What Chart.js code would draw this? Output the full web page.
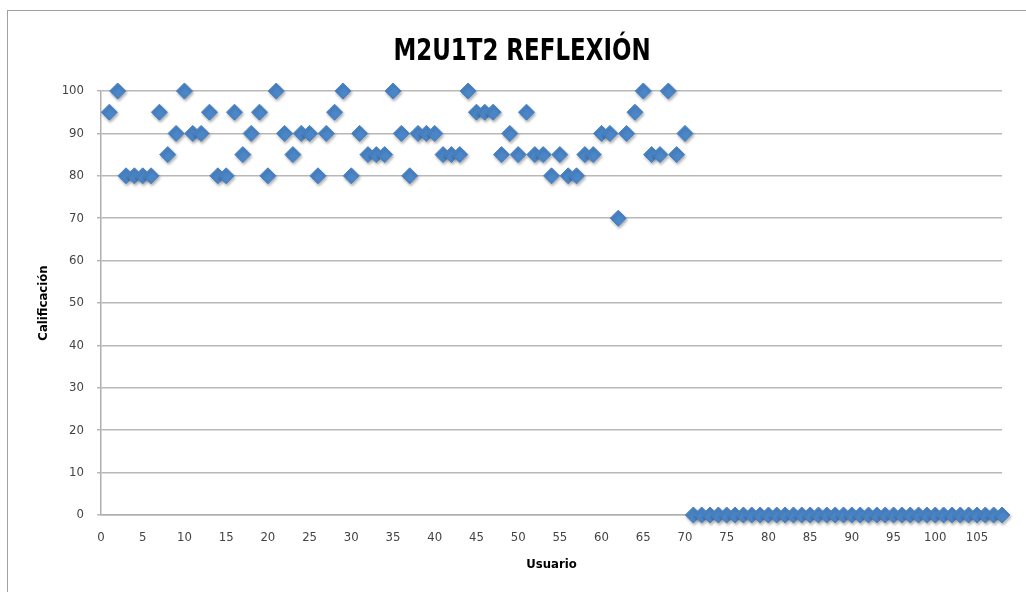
<!DOCTYPE html>
<html>
<head>
<meta charset="utf-8">
<script src="https://cdn.jsdelivr.net/npm/chart.js@4.4.0/dist/chart.umd.min.js"></script>
<style>
  html, body { margin: 0; padding: 0; background: #fff; overflow: hidden; }
  #frame { position: absolute; left: 7px; top: 10px; width: 1040px; height: 600px; border: 1px solid #a0a0a0; }
  #wrap { position: absolute; left: 0; top: 0; width: 1026px; height: 592px; }
</style>
</head>
<body>
<div id="frame"></div>
<div id="wrap"><canvas id="myChart" width="1026" height="592"></canvas></div>
<script>
const chartTitle = 'M2U1T2 REFLEXIÓN';
const xTitle = 'Usuario';
const yTitle = 'Calificación';

// calificación por usuario (usuario 1 .. 108)
const scores = [
    95, 100, 80, 80, 80, 80, 95, 85, 90, 100,
    90, 90, 95, 80, 80, 95, 85, 90, 95, 80,
    100, 90, 85, 90, 90, 80, 90, 95, 100, 80,
    90, 85, 85, 85, 100, 90, 80, 90, 90, 90,
    85, 85, 85, 100, 95, 95, 95, 85, 90, 85,
    95, 85, 85, 80, 85, 80, 80, 85, 85, 90,
    90, 70, 90, 95, 100, 85, 85, 100, 85, 90,
    0, 0, 0, 0, 0, 0, 0, 0, 0, 0,
    0, 0, 0, 0, 0, 0, 0, 0, 0, 0,
    0, 0, 0, 0, 0, 0, 0, 0, 0, 0,
    0, 0, 0, 0, 0, 0, 0, 0
];

const xTicks = [0, 5, 10, 15, 20, 25, 30, 35, 40, 45, 50, 55, 60, 65, 70, 75, 80, 85, 90, 95, 100, 105];
const xMin = 0;
const xMax = 108;
const yMin = 0;
const yMax = 100;
const yStep = 10;

const points = scores.map((v, i) => ({ x: i + 1, y: v }));

// slight drop shadow under the diamonds
const shadowPlugin = {
    id: 'shadow',
    beforeDatasetsDraw(chart) {
        const ctx = chart.ctx;
        ctx.save();
        ctx.shadowColor = 'rgba(0, 0, 0, 0.3)';
        ctx.shadowBlur = 3;
        ctx.shadowOffsetX = 1;
        ctx.shadowOffsetY = 2;
    },
    afterDatasetsDraw(chart) {
        chart.ctx.restore();
    }
};

// title drawn by hand (narrow, like the Calibri one in Excel)
const titlePlugin = {
    id: 'excelTitle',
    afterDraw(chart) {
        const ctx = chart.ctx;
        ctx.save();
        ctx.translate(522, 60);
        ctx.scale(0.85, 1);
        ctx.font = "bold 30px 'DejaVu Sans Condensed', 'DejaVu Sans', sans-serif";
        ctx.fillStyle = '#000';
        ctx.textAlign = 'center';
        ctx.textBaseline = 'alphabetic';
        ctx.fillText(chartTitle, 0, 0);
        ctx.restore();
    }
};

const tickFont = { family: "'DejaVu Sans Condensed', 'DejaVu Sans', sans-serif", size: 13 };
const titleFont = { family: "'DejaVu Sans Condensed', 'DejaVu Sans', sans-serif", size: 13, weight: 'bold' };

const config = {
    type: 'scatter',
    data: {
        datasets: [{
            label: yTitle,
            data: points,
            pointStyle: 'rectRot',
            pointRadius: 8,
            pointHoverRadius: 8,
            backgroundColor: '#4a86c8',
            borderColor: '#4a80c0',
            borderWidth: 1,
            clip: false
        }]
    },
    options: {
        responsive: false,
        animation: false,
        layout: {
            padding: { left: 0, right: 24, top: 91, bottom: 0 }
        },
        plugins: {
            legend: { display: false },
            tooltip: { enabled: false },
            title: { display: false }
        },
        scales: {
            x: {
                type: 'linear',
                min: xMin,
                max: xMax,
                afterFit: (scale) => { scale.height = 77; },
                afterBuildTicks: (scale) => {
                    scale.ticks = xTicks.map(v => ({ value: v }));
                },
                ticks: {
                    autoSkip: false,
                    maxRotation: 0,
                    padding: 15,
                    color: '#444',
                    font: tickFont
                },
                grid: { display: false, drawTicks: false },
                border: { display: true, color: '#b0b0b0', width: 1.5 },
                title: {
                    display: true,
                    text: xTitle,
                    color: '#000',
                    font: titleFont,
                    padding: { top: 20, bottom: 20 }
                }
            },
            y: {
                min: yMin,
                max: yMax,
                afterFit: (scale) => { scale.width = 101; },
                ticks: {
                    stepSize: yStep,
                    padding: 13,
                    color: '#444',
                    font: tickFont
                },
                grid: {
                    color: '#b8b8b8',
                    lineWidth: 1.5,
                    drawTicks: true,
                    tickLength: 4
                },
                border: { display: true, color: '#b0b0b0', width: 1.5 },
                title: {
                    display: true,
                    text: yTitle,
                    color: '#000',
                    font: titleFont,
                    padding: { top: 36, bottom: 0 }
                }
            }
        }
    },
    plugins: [shadowPlugin, titlePlugin]
};

var myChart = new Chart(
    document.getElementById('myChart'),
    config
);
</script>
</body>
</html>
